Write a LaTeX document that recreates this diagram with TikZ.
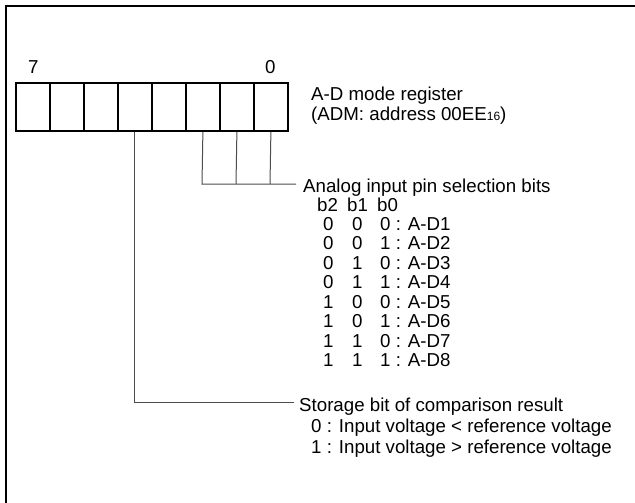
\documentclass[tikz,border=0pt]{standalone}
\usepackage{fontspec}
\setmainfont{Liberation Sans}
\begin{document}
\begin{tikzpicture}[x=1pt,y=-1pt,
  txt/.style={anchor=base west,inner sep=0pt,font=\fontsize{18.7}{22}\selectfont},
  cell/.style={draw=black,line width=1.8pt,minimum width=34pt,minimum height=48pt,inner sep=0pt,anchor=north west},
  conn/.style={draw=black!70,line width=1pt},
  frame/.style={draw=black,line width=2.2pt}]
\useasboundingbox (0,0) rectangle (635,503);
% outer frame (only top and left visible)
\coordinate (fbl) at (6,510);
\coordinate (ftl) at (6,6);
\coordinate (ftr) at (645,6);
\draw[frame] (fbl) -- (ftl) -- (ftr);
% register cells
\foreach \k [count=\j from 0] in {7,6,5,4,3,2,1,0}{
  \node[cell] (c\k) at (15+34*\j,82) {};
}
\node[txt] (n7) at (28,74) {7};
\node[txt] (n0) at (265,74) {0};
\node[txt] (reg1) at (311,101) {A-D mode register};
\node[txt] (reg2) at (311,121) {(ADM: address 00EE{\fontsize{12}{14}\selectfont 16})};
% analog selection connectors
\coordinate (j2) at (202,184);
\coordinate (j1) at (236,184);
\coordinate (j0) at (270,184);
\coordinate (ae) at (296,184);
\draw[conn] (c2.south) -- (j2) -- (ae);
\draw[conn] (c1.south) -- (j1);
\draw[conn] (c0.south) -- (j0);
\node[txt] (ana) at (303,192) {Analog input pin selection bits};
\node[txt] (hb2) at (317,211) {b2};
\node[txt] (hb1) at (347,211) {b1};
\node[txt] (hb0) at (377,211) {b0};
\foreach \a/\b/\c/\n [count=\i from 0] in {0/0/0/1,0/0/1/2,0/1/0/3,0/1/1/4,1/0/0/5,1/0/1/6,1/1/0/7,1/1/1/8}{
  \node[txt] (ra\i) at (323,230+19.5*\i) {\a};
  \node[txt] (rb\i) at (352,230+19.5*\i) {\b};
  \node[txt] (rc\i) at (380,230+19.5*\i) {\c\ : A-D\n};
}
% storage bit connector
\coordinate (sc) at (c4.south |- 0,402);
\coordinate (se) at (294,402);
\draw[conn] (c4.south) -- (sc) -- (se);
\node[txt] (sto) at (299,411) {Storage bit of comparison result};
\node[txt] (s0) at (311,432) {0 : Input voltage < reference voltage};
\node[txt] (s1) at (311,453) {1 : Input voltage > reference voltage};
\end{tikzpicture}
\end{document}
